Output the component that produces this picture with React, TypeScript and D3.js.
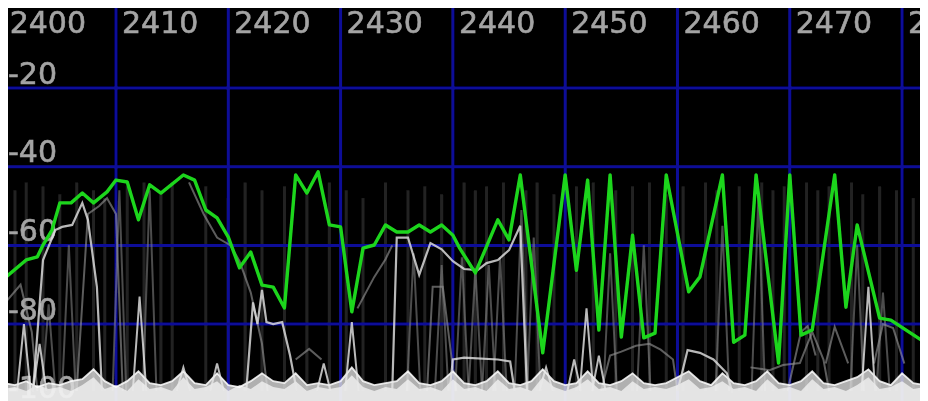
import React from "react";
import * as d3 from "d3";

const W = 920;
const H = 393;

const freqTicks = [2400, 2410, 2420, 2430, 2440, 2450, 2460, 2470, 2480];
const dbGrid = [-20, -40, -60, -80, -100];

// max-hold trace (green)
const maxHold: [number, number][] = [
  [2400, -68.5], [2402, -63.7], [2403, -62.9], [2403.5, -59.9], [2404.3, -56.1], [2405, -49.2],
  [2406, -49.2], [2407, -46.7], [2408, -49.2], [2409.2, -46.4], [2410, -43.4], [2411, -43.9],
  [2412, -53.5], [2413, -44.6], [2414, -46.7], [2416, -42.1], [2417, -43.4], [2418, -51.0],
  [2419, -53.0], [2420, -57.9], [2421, -65.7], [2422, -61.7], [2423, -70.1], [2424, -70.6],
  [2425, -75.9], [2426, -42.1], [2427, -46.7], [2428, -41.3], [2429, -54.8], [2430, -55.3],
  [2431, -76.9], [2432, -60.7], [2433, -59.9], [2434, -54.8], [2435, -56.6], [2436, -56.6],
  [2437, -54.8], [2438, -56.6], [2439, -54.8], [2440, -57.4], [2440.6, -60.7], [2442, -67.0],
  [2444, -53.5], [2445, -58.6], [2446, -42.1], [2448, -87.3], [2450, -42.1], [2451, -66.3],
  [2452, -43.4], [2453, -81.5], [2454, -42.1], [2455, -83.3], [2456, -57.4], [2457, -83.5],
  [2458, -82.3], [2459, -42.1], [2461, -71.8], [2462, -68.0], [2464, -42.1], [2465, -84.6],
  [2466, -82.8], [2467, -42.1], [2469, -89.9], [2470, -42.1], [2471, -82.8], [2472, -81.5],
  [2474, -42.1], [2475, -75.7], [2476, -54.8], [2478, -78.5], [2479, -79.0], [2482, -84.6],
  [2482.3, -82.3],
];

// noise floor level, one value per MHz from 2400
const floorFreqs = d3.range(2400, 2484);
const floorLevel = [
  -95, -95.5, -94.5, -96, -95, -95.5, -94.5, -94, -91.5, -94.5,
  -96, -94.5, -92, -95, -95.5, -94.5, -92, -95, -95.5, -92.5,
  -95.5, -96, -94.5, -92.5, -94.5, -95, -92.5, -95.5, -95, -95.5,
  -94.5, -91, -94.5, -95.5, -95, -94.5, -92, -95, -95.5, -94.5,
  -92, -95, -95.5, -94.5, -92, -95, -95.5, -94.5, -91.5, -94.5,
  -95.5, -95, -92, -95, -95.5, -94.5, -92.5, -95, -95.5, -95,
  -93.5, -92, -94.5, -95.5, -92.5, -95, -95.5, -94.5, -92, -95,
  -95.5, -94.5, -92, -95, -95.5, -94.5, -93.5, -91.5, -94.5, -95.5,
  -92.5, -95, -95.5, -94.5,
];
const floorLevel2 = [
  -96.5, -96, -97, -95.5, -96.5, -96, -97, -95.5, -93.5, -96.5,
  -95.5, -97, -94, -96.5, -96, -97, -93.5, -96.5, -96, -94.5,
  -97, -95.5, -96.5, -94.5, -96, -96.5, -94.5, -97, -96, -96.5,
  -96, -93, -96, -97, -96, -96.5, -94, -96.5, -96, -97,
  -94, -96.5, -96, -97, -94, -96.5, -96, -97, -93.5, -96,
  -97, -96, -94, -96.5, -96, -97, -94.5, -96.5, -96, -96.5,
  -95.5, -94, -96.5, -96, -94.5, -96.5, -96, -97, -94, -96.5,
  -96, -97, -94, -96.5, -96, -97, -95.5, -93.5, -96.5, -96,
  -94.5, -96.5, -96, -97,
];

// faint persistence streaks [freq, top dB]
const streaks: [number, number][] = [
  [2401, -46], [2402, -44], [2403.5, -45], [2405, -47], [2406.5, -44], [2408, -46], [2409, -48],
  [2411, -45], [2412.5, -44], [2414, -47], [2415, -44], [2418, -45], [2420, -48], [2421.5, -44],
  [2423, -46], [2425, -45], [2427, -47], [2429, -44], [2430.5, -46], [2432, -48], [2434, -44],
  [2436, -46], [2437.5, -45], [2439, -47], [2441, -44], [2442, -46], [2443, -45], [2444.5, -44],
  [2446.5, -46], [2447.5, -44], [2449, -47], [2451, -45], [2452.5, -44], [2454.5, -46], [2456, -45],
  [2457.5, -44], [2459, -47], [2460.5, -45], [2462.5, -44], [2463.5, -46], [2465.5, -45],
  [2467.5, -44], [2468.5, -46], [2469.5, -45], [2471.5, -44], [2472.5, -46], [2473.5, -45],
  [2475.5, -44], [2476.5, -47], [2478, -45], [2479.5, -46], [2481, -48],
];

// narrow spikes [freq, peak dB]
const whiteSpikes: [number, number][] = [
  [2412.1, -73], [2419, -90], [2431, -79.5], [2451.9, -76], [2450.8, -89], [2453, -88],
  [2477, -70.5], [2401.8, -80], [2403.2, -85], [2416, -91], [2428.5, -90], [2448.3, -91],
];
const graySpikes: [number, number][] = [
  [2413, -46], [2410.3, -46], [2440.8, -63], [2442, -66], [2443.2, -65], [2444.2, -63],
  [2446.1, -51], [2447.2, -58], [2454, -62], [2457, -60], [2464, -55], [2467.2, -48],
  [2476, -60], [2478.3, -72], [2405.8, -60], [2404, -75], [2436.5, -62], [2439, -65],
];

const whiteTraces: [number, number][][] = [
  [[2402.6, -97.3], [2403.5, -63.7], [2404.6, -56.1], [2405.2, -55.3], [2406.1, -54.8], [2407.0, -49.2],
   [2407.5, -53.5], [2408.3, -70.6], [2408.75, -97]],
  [[2421.6, -97], [2422.2, -74.5], [2422.6, -80], [2423, -71.3], [2423.4, -79.5], [2424, -80],
   [2424.8, -79.5], [2425.5, -88], [2426.1, -97]],
  [[2434.6, -97], [2435, -58], [2436, -58], [2437, -67.5], [2438, -59.4], [2439, -61], [2440, -64],
   [2441, -66], [2442.2, -66.3], [2443, -64.5], [2444, -63.7], [2445, -61.2], [2446, -55], [2446.6, -97]],
  [[2439.7, -97], [2440, -89], [2441, -88.5], [2444, -89], [2445.1, -89.5], [2445.5, -97]],
  [[2460, -97], [2460.4, -92.5], [2460.9, -86.6], [2462, -87.3], [2463.2, -89], [2464.4, -92.5], [2464.9, -97.5]],
];

const grayTraces: [number, number][][] = [
  [[2400, -75], [2401.5, -70], [2402.5, -82], [2403, -97]],
  [[2406.5, -97], [2407.5, -52], [2408.5, -50], [2409.2, -48], [2410, -52], [2410.6, -97]],
  [[2416.5, -44], [2417.8, -52], [2419, -58], [2420.2, -60], [2421, -64], [2422, -72], [2423, -85], [2423.5, -97]],
  [[2431.5, -76], [2433, -68], [2434, -63.5], [2434.6, -60]],
  [[2437.7, -97], [2438.2, -70.5], [2439.1, -70.5], [2439.9, -89], [2440.3, -97]],
  [[2426, -89], [2427.2, -86.3], [2428.3, -89]],
  [[2453.2, -97], [2454, -88], [2455, -87], [2456.3, -85.5], [2457.5, -85], [2458.5, -86.5], [2459.6, -89], [2460, -97]],
  [[2466.5, -91], [2468.2, -91.7], [2469.4, -90.4], [2470.9, -89.9], [2472, -82], [2473, -89], [2473.5, -97]],
  [[2473.2, -90], [2474, -80.7], [2475.2, -90]],
  [[2477.5, -90], [2478.3, -80], [2479.2, -81], [2480.2, -90]],
  [[2469.8, -97], [2471, -82], [2471.6, -80.5], [2472.3, -88]],
];

const SPIKE_HALF = 0.6;
const FLOOR = -97;

export default function App() {
  const x = d3.scaleLinear().domain([2400, 2482.3]).range([-4.3, 919.9]);
  const y = d3.scaleLinear().domain([0, -100]).range([1.3, 394.8]);
  const line = d3.line<[number, number]>().x((d) => x(d[0])).y((d) => y(d[1]));
  const floorPts: [number, number][] = floorFreqs.map((f, i) => [f, floorLevel[i]]);
  const floorPts2: [number, number][] = floorFreqs.map((f, i) => [f, floorLevel2[i]]);
  const area = d3
    .area<[number, number]>()
    .x((d) => x(d[0]))
    .y0(H)
    .y1((d) => y(d[1]));
  const spikePath = (s: [number, number]) =>
    line([
      [s[0] - SPIKE_HALF, FLOOR],
      [s[0], s[1]],
      [s[0] + SPIKE_HALF, FLOOR],
    ]) as string;
  const font = "'DejaVu Sans', Verdana, sans-serif";

  return (
    <svg width={W} height={H} style={{ display: "block" }}>
      <defs>
        <filter id="soft" x="-2%" y="-2%" width="104%" height="104%">
          <feGaussianBlur stdDeviation={0.6} />
        </filter>
      </defs>
      <rect x={0} y={0} width={W} height={H} fill="#000" />
      <g filter="url(#soft)">
        {streaks.map((s, i) => (
          <line key={"st" + i} x1={x(s[0])} x2={x(s[0])} y1={y(FLOOR)} y2={y(s[1])} stroke="#242424" strokeWidth={3} />
        ))}
        {freqTicks.map((f) => (
          <line key={"vx" + f} x1={x(f)} x2={x(f)} y1={0} y2={H} stroke="#0c0c98" strokeWidth={3} />
        ))}
        {dbGrid.map((v) => (
          <line key={"hy" + v} x1={0} x2={W} y1={y(v)} y2={y(v)} stroke="#0c0c98" strokeWidth={3} />
        ))}
        {freqTicks.map((f) => (
          <text key={"tx" + f} x={x(f) + 6} y={25} fontFamily={font} fontSize={30} fill="#a4a4a4" stroke="#a4a4a4" strokeWidth={0.6}>
            {f}
          </text>
        ))}
        {dbGrid.map((v) => (
          <text key={"ty" + v} x={0} y={y(v) - 4.5} fontFamily={font} fontSize={30} fill="#a4a4a4" stroke="#a4a4a4" strokeWidth={0.6}>
            {v}
          </text>
        ))}
        {grayTraces.map((t, i) => (
          <path key={"gt" + i} d={line(t) as string} fill="none" stroke="#9a9a9a" strokeOpacity={0.6} strokeWidth={2} />
        ))}
        {graySpikes.map((s, i) => (
          <path key={"gs" + i} d={spikePath(s)} fill="none" stroke="#8a8a8a" strokeOpacity={0.55} strokeWidth={2} />
        ))}
        <path d={area(floorPts) as string} fill="#dcdcdc" fillOpacity={0.8} />
        <path d={area(floorPts2) as string} fill="#f6f6f6" fillOpacity={0.75} />
        <path d={line(floorPts) as string} fill="none" stroke="#ffffff" strokeOpacity={0.85} strokeWidth={1.8} />
        {whiteSpikes.map((s, i) => (
          <path key={"ws" + i} d={spikePath(s)} fill="none" stroke="#e8e8e8" strokeOpacity={0.8} strokeWidth={2} />
        ))}
        {whiteTraces.map((t, i) => (
          <path key={"wt" + i} d={line(t) as string} fill="none" stroke="#e6e6e6" strokeOpacity={0.8} strokeWidth={2.2} />
        ))}
        <path d={line(maxHold) as string} fill="none" stroke="#1fd61f" strokeWidth={3.4} strokeLinejoin="round" />
      </g>
    </svg>
  );
}
